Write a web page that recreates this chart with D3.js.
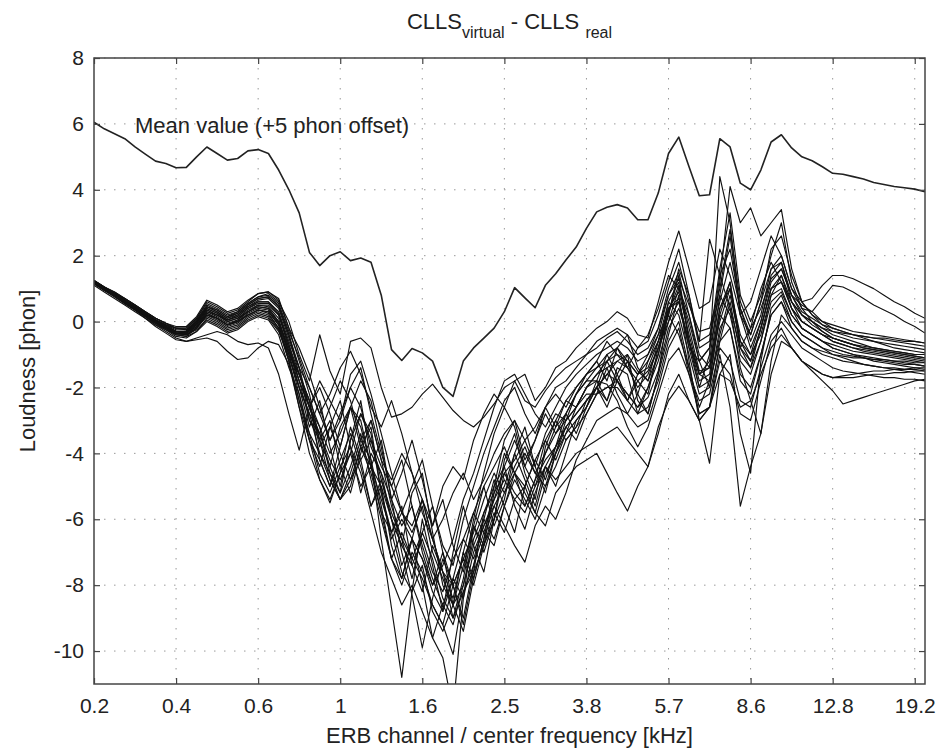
<!DOCTYPE html>
<html lang="en">
<head>
    <meta charset="UTF-8">
    <title>CLLS virtual - CLLS real</title>
    <script src="https://d3js.org/d3.v7.min.js"></script>
    <style>
        body {
            margin: 0;
            background: #fff;
            font-family: "Liberation Sans", Arial, Helvetica, sans-serif;
        }
        svg text {
            fill: #222;
        }
    </style>
</head>
<body>
<svg width="950" height="748"></svg>
<script>
    // ERB channels that carry a frequency label (every 8th channel)
    const tickChannels = [0, 8, 16, 24, 32, 40, 48, 56, 64, 72, 80];
    const tickLabels = ["0.2", "0.4", "0.6", "1", "1.6", "2.5", "3.8", "5.7", "8.6", "12.8", "19.2"];
    const yTicks = [-10, -8, -6, -4, -2, 0, 2, 4, 6, 8];

    // mean curve, already shifted by +5 phon (channels 0..81)
    const meanCurve = [6.05, 5.85, 5.7, 5.55, 5.3, 5.08, 4.87, 4.8, 4.67, 4.68, 5.0, 5.3, 5.1, 4.9, 4.95, 5.18, 5.22, 5.1, 4.6, 4.0,
        3.3, 2.1, 1.7, 2.0, 2.12, 1.85, 1.93, 1.8, 0.8, -0.85, -1.18, -0.82, -0.95, -1.2, -2.0, -2.27, -1.2, -0.8, -0.5, -0.2,
        0.3, 1.03, 0.72, 0.42, 1.1, 1.45, 1.87, 2.26, 2.83, 3.33, 3.47, 3.55, 3.45, 3.09, 3.09, 3.9, 5.1, 5.6, 4.7, 3.82,
        3.85, 5.55, 5.3, 4.2, 4.0, 4.6, 5.45, 5.67, 5.27, 5.0, 4.88, 4.7, 4.5, 4.47, 4.4, 4.33, 4.22, 4.16, 4.1, 4.06,
        4.02, 3.94];

    // single curves (channels 0..81)
    const s01 = [1.25, 1.05, 0.9, 0.7, 0.5, 0.3, 0.1, -0.05, -0.2, -0.25, 0.0, 0.45, 0.35, 0.15, 0.3, 0.55, 0.75, 0.85, 0.6,
        0.0, -1.0, -1.8, -0.4, -1.5, -2.2, -0.6, -0.5, -0.8, -2.0, -2.9, -2.8, -2.6, -2.2, -1.9, -2.3, -2.7, -3.0, -3.2, -2.9, -2.5, -2.0, -1.8, -2.4, -2.6, -2.1, -1.7, -1.4, -1.2, -1.0,
        -0.8, -0.5, -0.3, -0.6, -1.0, -0.8, -0.2, 0.8, 1.3, 0.5, -0.3, -0.2, 1.0, 2.8, 0.6, -0.2, 0.4, 1.3, 1.6, 0.8, 0.5, 0.3, 0.0, -0.2, -0.3, -0.4, -0.5, -0.6, -0.7, -0.8, -0.85, -0.9, -0.95];
    const s02 = [1.2, 1.0, 0.85, 0.65, 0.45, 0.25, 0.05, -0.1, -0.3, -0.35, -0.1, 0.3, 0.2, 0.0, 0.1, 0.35, 0.5, 0.5, 0.2,
        -0.8, -2.0, -3.2, -2.4, -3.8, -5.0, -3.6, -2.4, -4.2, -6.6, -8.7, -10.8, -8.2, -6.0, -7.4, -8.8, -7.0, -5.6, -6.8, -7.6, -6.0, -4.2, -3.4, -4.6, -5.4, -3.8, -3.0, -3.6, -3.2, -2.4,
        -2.0, -1.6, -1.2, -1.0, -1.5, -1.8, -1.0, 0.3, 1.1, -0.2, -1.5, -1.4, 0.8, 0.2, -1.2, -1.6, -0.6, 0.6, 0.9, 0.2, -0.2, -0.4, -0.6, -0.8, -0.9, -1.0, -1.1, -1.2, -1.25, -1.3, -1.35, -1.4, -1.45];
    const s03 = [1.15, 0.95, 0.75, 0.55, 0.35, 0.15, -0.05, -0.2, -0.4, -0.45, -0.2, 0.2, 0.1, -0.1, 0.0, 0.2, 0.35, 0.3, -0.1,
        -1.2, -2.6, -3.6, -4.4, -3.2, -2.4, -3.8, -5.2, -4.0, -4.6, -6.0, -7.4, -6.6, -8.0, -9.6, -10.2, -11.8, -8.4, -6.2, -5.0, -6.2, -5.4, -4.0, -3.2, -4.4, -5.2, -4.0, -3.0, -2.6, -2.2,
        -2.2, -2.0, -1.8, -2.2, -2.6, -2.3, -1.5, -0.2, 0.4, -0.6, -1.6, -1.8, 0.2, -0.2, -1.6, -2.0, -1.0, 0.2, 0.6, 0.0, -0.4, -0.6, -0.8, -1.0, -1.1, -1.2, -1.3, -1.35, -1.4, -1.45, -1.5, -1.55, -1.6];
    const s04 = [1.2, 1.0, 0.8, 0.6, 0.4, 0.2, 0.0, -0.15, -0.35, -0.4, -0.25, 0.05, -0.1, -0.3, -0.2, 0.05, 0.2, 0.1, -0.3,
        -1.0, -1.6, -2.4, -4.2, -5.0, -3.8, -2.6, -3.0, -4.4, -3.6, -5.4, -7.0, -8.3, -9.9, -8.4, -7.2, -8.0, -9.0, -7.4, -6.0, -4.8, -5.6, -6.4, -5.0, -4.2, -4.8, -3.8, -2.8, -3.4, -2.6,
        -1.8, -1.0, -1.6, -2.4, -1.8, -2.2, -0.8, 0.2, -0.4, -1.4, -2.6, -1.8, -0.6, 0.6, -1.0, -1.4, -0.2, 1.0, 1.2, 0.4, 0.0, -0.2, -0.4, -0.5, -0.6, -0.7, -0.8, -0.85, -0.9, -0.95, -1.0, -1.05, -1.1];
    const s05 = [1.1, 0.9, 0.7, 0.5, 0.3, 0.1, -0.15, -0.35, -0.55, -0.6, -0.5, -0.4, -0.3, -0.4, -0.6, -0.7, -0.65, -0.8, -1.6,
        -2.8, -3.9, -2.6, -2.0, -2.8, -3.8, -2.6, -1.8, -2.4, -3.8, -5.4, -4.6, -3.6, -4.8, -6.2, -5.4, -6.8, -7.6, -6.0, -4.6, -3.4, -2.6, -3.2, -4.4, -3.6, -2.8, -3.4, -3.0, -2.2, -1.8,
        -1.8, -1.9, -2.4, -3.2, -3.8, -3.2, -2.2, -1.2, -0.8, -1.6, -2.4, -2.2, -0.8, -1.2, -2.4, -2.6, -1.4, -0.4, 0.0, -0.4, -0.8, -1.0, -1.2, -1.4, -1.5, -1.55, -1.6, -1.65, -1.7, -1.7, -1.75, -1.75, -1.8];
    const s06 = [1.2, 1.0, 0.8, 0.55, 0.35, 0.1, -0.1, -0.3, -0.5, -0.6, -0.55, -0.5, -0.6, -0.9, -1.15, -1.1, -0.8, -0.6, -0.7,
        -1.3, -2.6, -4.0, -4.8, -5.4, -4.6, -3.2, -4.2, -5.6, -4.8, -6.0, -6.8, -5.2, -4.6, -6.4, -8.0, -8.6, -7.0, -7.8, -6.6, -5.0, -4.4, -5.6, -6.3, -5.2, -4.4, -5.0, -4.0, -3.0, -2.6,
        -2.0, -2.6, -1.8, -1.2, -2.2, -2.8, -1.6, 0.4, 0.6, -0.8, -1.2, -2.0, -0.4, 0.8, -0.6, -1.2, -0.2, 1.0, 1.4, 0.6, 0.2, 0.0, -0.2, -0.4, -0.5, -0.6, -0.7, -0.8, -0.85, -0.9, -0.95, -1.0, -1.0];
    const s07 = [1.25, 1.05, 0.85, 0.65, 0.45, 0.25, 0.05, -0.1, -0.2, -0.2, 0.1, 0.6, 0.45, 0.25, 0.35, 0.6, 0.85, 0.9, 0.7,
        -0.2, -1.2, -2.2, -3.6, -3.0, -4.4, -5.2, -4.0, -3.0, -4.2, -5.6, -6.6, -7.8, -6.4, -5.6, -7.0, -8.0, -9.2, -7.6, -5.8, -5.0, -3.6, -3.0, -4.2, -3.6, -2.6, -3.2, -2.4, -2.0, -1.6,
        -1.4, -1.2, -1.0, -1.2, -1.6, -1.4, -0.6, 0.6, 1.2, -0.6, -2.0, -1.0, 4.4, 3.0, 0.2, -0.8, 0.0, 1.2, 1.6, 0.8, 0.3, 0.1, -0.1, -0.2, -0.3, -0.4, -0.45, -0.5, -0.55, -0.6, -0.65, -0.7, -0.75];
    const s08 = [1.2, 1.0, 0.85, 0.65, 0.45, 0.2, 0.0, -0.15, -0.3, -0.3, 0.0, 0.45, 0.3, 0.1, 0.2, 0.45, 0.65, 0.7, 0.4,
        -0.5, -1.4, -3.0, -3.6, -4.4, -3.2, -2.6, -3.8, -3.2, -5.2, -6.4, -5.6, -7.4, -8.2, -6.8, -7.6, -9.0, -7.8, -6.2, -6.8, -5.2, -4.0, -4.6, -5.6, -4.8, -3.6, -4.2, -3.4, -2.6, -2.0,
        -1.6, -1.4, -1.2, -1.4, -1.8, -1.5, -0.8, 0.4, 0.9, -0.4, -1.6, -1.2, 1.2, 4.1, 3.0, 3.45, 2.6, 3.0, 3.4, 1.6, 0.6, 0.2, 0.0, -0.1, -0.2, -0.3, -0.35, -0.4, -0.45, -0.5, -0.55, -0.6, -0.65];
    const s09 = [1.2, 1.0, 0.8, 0.6, 0.4, 0.2, 0.0, -0.2, -0.3, -0.3, -0.05, 0.35, 0.2, 0.0, 0.1, 0.3, 0.45, 0.4, 0.0,
        -0.9, -1.8, -2.6, -3.4, -2.6, -1.8, -2.4, -3.6, -3.0, -4.2, -4.8, -4.0, -4.6, -5.4, -6.2, -5.0, -4.4, -4.8, -3.6, -2.8, -2.2, -2.6, -1.8, -1.6, -2.4, -2.0, -1.4, -1.2, -0.8, -0.5,
        -0.2, 0.0, 0.3, 0.1, -0.4, -0.5, 0.6, 1.8, 2.75, 1.6, 0.4, 0.6, 2.2, 1.4, 0.2, 0.6, 1.6, 2.6, 2.0, 1.0, 0.6, 0.7, 1.1, 1.4, 1.4, 1.3, 1.15, 1.0, 0.8, 0.6, 0.45, 0.25, 0.1];
    const s10 = [1.15, 0.95, 0.8, 0.6, 0.4, 0.15, -0.05, -0.2, -0.35, -0.35, -0.1, 0.25, 0.1, -0.1, 0.0, 0.2, 0.35, 0.25, -0.2,
        -1.2, -2.4, -3.6, -4.2, -5.0, -4.2, -3.4, -4.4, -5.6, -5.0, -6.8, -7.8, -6.6, -5.4, -6.6, -7.6, -8.4, -7.0, -5.8, -6.4, -5.4, -4.4, -3.6, -4.4, -5.0, -4.0, -3.2, -2.8, -2.2, -1.6,
        -1.2, -1.8, -0.8, -0.4, -1.4, -1.8, -0.6, 0.2, 1.6, 0.8, -0.8, -0.6, 1.6, 3.3, 0.8, 0.0, 0.8, 2.0, 3.0, 1.2, 0.4, 0.3, 0.7, 1.1, 1.05, 0.9, 0.7, 0.5, 0.35, 0.2, 0.0, -0.15, -0.35];
    const s11 = [1.2, 1.0, 0.8, 0.6, 0.4, 0.2, 0.0, -0.2, -0.4, -0.45, -0.3, 0.0, -0.15, -0.35, -0.25, 0.0, 0.15, 0.05, -0.4,
        -1.4, -2.2, -3.6, -4.8, -5.5, -4.6, -4.0, -5.0, -4.4, -5.8, -7.2, -6.4, -7.2, -7.8, -8.6, -9.2, -8.0, -7.2, -8.0, -6.8, -5.8, -6.4, -5.4, -5.0, -5.8, -6.2, -5.2, -4.8, -4.4, -4.2,
        -4.0, -4.6, -5.2, -5.75, -5.0, -4.4, -3.4, -2.2, -1.6, -2.4, -3.0, -2.6, -1.2, -1.6, -2.8, -3.0, -1.8, -0.6, -0.2, -0.8, -1.2, -1.4, -1.6, -1.7, -1.7, -1.7, -1.65, -1.6, -1.6, -1.55, -1.55, -1.5, -1.5];
    const s12 = [1.2, 1.0, 0.8, 0.6, 0.4, 0.2, -0.05, -0.2, -0.35, -0.4, -0.2, 0.15, 0.0, -0.2, -0.1, 0.15, 0.3, 0.2, -0.2,
        -1.1, -2.0, -2.8, -3.4, -4.4, -5.2, -4.4, -3.4, -4.8, -6.0, -7.2, -7.8, -6.6, -7.2, -8.0, -7.0, -8.6, -9.4, -7.8, -6.6, -5.6, -5.0, -4.0, -4.8, -5.6, -4.4, -3.8, -3.2, -3.6, -2.8,
        -2.2, -2.0, -2.0, -2.4, -2.8, -2.6, -1.8, -0.6, 0.0, -1.4, -2.8, -2.6, -1.0, -2.6, -5.6, -4.4, -3.4, -1.6, -0.6, -0.8, -1.2, -1.5, -1.8, -2.1, -2.5, -2.4, -2.3, -2.2, -2.1, -2.0, -1.9, -1.8, -1.75];
    const s13 = [1.25, 1.05, 0.85, 0.65, 0.45, 0.25, 0.05, -0.1, -0.25, -0.25, 0.05, 0.5, 0.35, 0.15, 0.25, 0.5, 0.7, 0.75, 0.5,
        -0.4, -1.6, -2.4, -3.8, -3.2, -4.0, -4.8, -3.8, -4.6, -5.8, -6.4, -7.6, -8.2, -7.4, -8.8, -9.4, -8.6, -7.4, -6.2, -7.0, -6.0, -4.6, -4.2, -3.6, -4.4, -3.4, -2.8, -3.0, -2.6, -2.0,
        -1.8, -2.4, -1.6, -1.0, -2.4, -2.8, -1.6, -0.4, 0.8, -1.2, -3.0, -4.3, -1.6, -1.0, -3.4, -4.6, -1.2, 0.4, 0.8, 0.0, -0.4, -0.6, -0.8, -0.9, -1.0, -1.05, -1.1, -1.15, -1.2, -1.25, -1.3, -1.3, -1.35];
    const s14 = [1.2, 1.0, 0.85, 0.65, 0.45, 0.25, 0.05, -0.15, -0.3, -0.3, -0.05, 0.4, 0.25, 0.05, 0.15, 0.4, 0.55, 0.55, 0.2,
        -0.7, -1.8, -3.0, -3.4, -4.2, -4.8, -4.0, -2.8, -3.4, -5.2, -6.6, -6.0, -6.6, -7.2, -8.2, -8.8, -7.8, -8.4, -7.0, -6.2, -5.6, -6.2, -6.8, -7.3, -6.2, -5.6, -6.0, -5.2, -4.2, -3.6,
        -3.0, -2.8, -2.6, -2.8, -3.2, -3.0, -2.0, -0.8, -0.2, -1.6, -2.8, -2.6, -0.6, -0.2, -1.8, -2.2, -1.0, 0.2, 0.6, -0.2, -0.6, -0.8, -1.0, -1.1, -1.2, -1.25, -1.3, -1.35, -1.4, -1.4, -1.45, -1.45, -1.5];
    const s15 = [1.2, 1.0, 0.85, 0.7, 0.5, 0.3, 0.1, -0.05, -0.2, -0.2, 0.1, 0.55, 0.4, 0.2, 0.3, 0.55, 0.75, 0.8, 0.55,
        -0.3, -1.1, -2.0, -2.8, -3.6, -2.8, -2.0, -2.6, -3.8, -4.6, -5.4, -6.2, -5.6, -7.0, -8.0, -7.4, -6.6, -5.4, -4.6, -3.6, -2.6, -1.8, -1.6, -2.2, -2.8, -3.2, -2.6, -2.0, -1.6, -1.3,
        -1.0, -0.8, -0.6, -0.8, -1.2, -1.0, -0.2, 1.0, 1.8, 0.6, -0.6, -0.4, 0.8, 2.6, 0.2, -0.4, 0.6, 2.2, 2.6, 1.4, 0.6, 0.2, -0.1, -0.3, -0.4, -0.5, -0.55, -0.6, -0.65, -0.7, -0.75, -0.8, -0.85];
    const s16 = [1.15, 0.95, 0.75, 0.55, 0.35, 0.15, -0.1, -0.25, -0.45, -0.5, -0.3, 0.1, -0.05, -0.25, -0.15, 0.1, 0.25, 0.15, -0.25,
        -1.2, -2.4, -3.4, -4.0, -4.6, -5.4, -4.6, -3.6, -4.2, -5.6, -7.2, -8.0, -7.0, -7.6, -8.6, -9.2, -10.1, -8.2, -7.4, -6.4, -6.8, -5.6, -4.8, -5.4, -6.0, -5.0, -4.4, -3.6, -3.2, -2.8,
        -2.2, -1.4, -2.2, -2.8, -2.2, -1.2, -0.6, 0.4, 0.7, -0.8, -2.0, -1.8, 0.2, 1.2, -0.6, -1.0, 0.0, 1.4, 1.8, 0.6, 0.0, -0.2, -0.4, -0.6, -0.7, -0.8, -0.9, -0.95, -1.0, -1.05, -1.1, -1.15, -1.2];
    const s17 = [1.2, 1.0, 0.8, 0.6, 0.4, 0.2, 0.0, -0.15, -0.3, -0.35, -0.15, 0.2, 0.05, -0.15, -0.05, 0.2, 0.35, 0.3, -0.1,
        -1.0, -2.0, -2.8, -4.0, -4.8, -5.4, -5.0, -3.8, -4.4, -5.0, -6.0, -6.8, -7.4, -6.6, -7.6, -8.2, -7.2, -6.6, -7.2, -6.2, -5.4, -4.8, -5.4, -5.8, -5.0, -4.4, -4.8, -4.4, -4.0, -3.8,
        -3.6, -3.4, -3.2, -3.6, -4.0, -4.4, -3.2, -2.4, -1.96, -2.4, -3.0, -2.6, -1.6, -1.8, -2.6, -2.4, -1.6, -0.8, -0.4, -0.8, -1.2, -1.4, -1.6, -1.7, -1.65, -1.6, -1.55, -1.5, -1.5, -1.45, -1.45, -1.4, -1.4];
    const s18 = [1.2, 1.0, 0.8, 0.6, 0.4, 0.2, 0.0, -0.15, -0.3, -0.3, 0.0, 0.4, 0.25, 0.05, 0.15, 0.4, 0.6, 0.6, 0.25,
        -0.7, -1.6, -2.4, -3.2, -4.0, -3.4, -2.6, -3.2, -4.4, -5.4, -6.4, -5.8, -6.2, -5.4, -6.6, -7.6, -8.0, -7.2, -6.4, -5.4, -4.6, -5.2, -4.4, -3.8, -4.6, -5.0, -4.0, -3.2, -2.8, -2.4,
        -2.0, -2.4, -1.4, -1.6, -2.8, -2.0, -1.0, 0.6, 0.2, -1.0, -2.2, -2.0, -0.2, 0.4, -1.4, -2.4, -3.4, -1.2, 0.2, -0.2, -0.6, -0.8, -0.9, -1.0, -1.05, -1.1, -1.1, -1.15, -1.15, -1.2, -1.2, -1.25, -1.25];
    const s19 = [1.25, 1.05, 0.9, 0.7, 0.5, 0.3, 0.1, -0.05, -0.15, -0.15, 0.15, 0.65, 0.5, 0.3, 0.4, 0.65, 0.85, 0.9, 0.65,
        -0.2, -0.8, -1.6, -2.6, -3.6, -3.0, -1.6, -1.2, -2.2, -3.4, -4.6, -5.8, -5.0, -4.2, -5.6, -6.8, -7.4, -6.0, -5.0, -4.0, -3.2, -2.4, -2.0, -2.8, -3.4, -2.6, -2.0, -1.8, -1.4, -1.0,
        -0.6, -0.4, -0.2, -0.4, -0.8, -0.6, 0.2, 1.2, 2.2, 0.8, -0.6, 2.5, 1.4, 0.4, -0.8, -0.2, 1.0, 1.8, 1.2, 0.6, 0.2, 0.0, -0.2, -0.3, -0.35, -0.4, -0.45, -0.5, -0.5, -0.55, -0.6, -0.6, -0.65];
    const s20 = [1.2, 1.0, 0.8, 0.6, 0.4, 0.2, 0.0, -0.2, -0.35, -0.4, -0.2, 0.2, 0.1, -0.1, 0.0, 0.25, 0.4, 0.35, -0.05,
        -0.9, -1.6, -2.6, -3.2, -4.6, -5.2, -3.6, -2.8, -3.6, -4.4, -5.0, -5.8, -6.4, -5.6, -7.0, -7.8, -8.6, -8.0, -6.8, -6.0, -6.6, -5.6, -4.6, -5.2, -5.8, -4.6, -4.0, -3.4, -3.0, -2.6,
        -2.0, -1.2, -1.8, -2.4, -1.6, -1.0, -0.4, 0.2, 1.4, -0.6, -1.8, -1.6, 0.4, 1.2, -0.8, -1.2, -0.2, 1.0, 1.2, 0.4, 0.0, -0.2, -0.4, -0.6, -0.7, -0.8, -0.85, -0.9, -0.95, -1.0, -1.05, -1.1, -1.15];
    const s21 = [1.2, 1.0, 0.85, 0.65, 0.45, 0.25, 0.0, -0.15, -0.3, -0.35, -0.05, 0.35, 0.2, 0.05, 0.2, 0.45, 0.6, 0.6, 0.3,
        -0.6, -1.4, -2.0, -2.8, -2.2, -1.4, -0.9, -1.6, -2.6, -3.2, -2.4, -3.4, -4.6, -5.8, -6.6, -6.0, -5.2, -4.6, -5.4, -4.8, -4.0, -3.4, -3.0, -3.6, -3.2, -2.6, -2.2, -2.6, -2.0, -1.6,
        -1.2, -0.6, -1.0, -1.4, -0.8, -0.4, 0.4, 1.4, 1.0, 0.0, -1.2, -0.8, 0.6, 1.8, 0.4, -0.6, 0.2, 1.6, 2.0, 1.0, 0.4, 0.0, -0.3, -0.5, -0.6, -0.7, -0.8, -0.85, -0.9, -0.95, -1.0, -1.05, -1.1];
    const s22 = [1.15, 0.95, 0.8, 0.6, 0.4, 0.2, -0.05, -0.25, -0.4, -0.4, -0.15, 0.25, 0.1, -0.1, 0.05, 0.3, 0.45, 0.4, 0.0,
        -0.8, -1.8, -2.6, -1.8, -2.4, -3.0, -2.0, -1.4, -2.8, -4.0, -5.0, -4.2, -5.6, -6.8, -7.8, -8.6, -7.8, -6.6, -5.8, -5.0, -4.4, -3.8, -4.6, -5.0, -4.2, -3.6, -3.0, -2.4, -2.6, -2.0,
        -1.6, -1.2, -0.8, -1.4, -2.0, -1.6, -0.8, 0.0, 1.0, 0.2, -1.0, -1.4, 0.0, 1.0, -0.4, -1.0, -0.4, 0.8, 1.4, 0.4, -0.2, -0.4, -0.6, -0.7, -0.8, -0.9, -0.95, -1.0, -1.05, -1.1, -1.15, -1.2, -1.25];
    const s23 = [1.2, 1.0, 0.8, 0.6, 0.4, 0.2, 0.0, -0.2, -0.35, -0.35, -0.1, 0.3, 0.15, -0.05, 0.05, 0.3, 0.5, 0.45, 0.1,
        -1.0, -2.2, -3.4, -4.6, -5.2, -4.4, -3.8, -4.6, -5.8, -7.0, -7.8, -8.6, -8.0, -8.8, -9.6, -8.6, -9.2, -8.0, -6.6, -5.8, -5.2, -4.6, -5.2, -5.6, -4.8, -4.2, -3.8, -3.2, -2.8, -2.4,
        -2.0, -1.6, -1.8, -2.2, -2.6, -2.0, -1.2, 0.0, 0.6, -0.6, -1.6, -1.4, 0.4, 1.0, -0.8, -1.4, -0.6, 0.8, 1.0, 0.2, -0.2, -0.4, -0.6, -0.8, -0.9, -1.0, -1.05, -1.1, -1.15, -1.2, -1.25, -1.3, -1.35];
    const s24 = [1.2, 1.0, 0.85, 0.65, 0.45, 0.2, 0.0, -0.15, -0.3, -0.3, 0.05, 0.45, 0.3, 0.1, 0.25, 0.5, 0.7, 0.75, 0.45,
        -0.4, -1.4, -2.6, -3.6, -4.8, -5.4, -4.8, -4.2, -3.6, -4.8, -5.8, -6.6, -7.2, -6.4, -7.2, -8.4, -9.0, -8.2, -7.6, -6.8, -6.0, -5.2, -4.6, -4.0, -4.6, -4.0, -3.4, -2.8, -2.2, -1.8,
        -1.4, -1.0, -0.8, -1.2, -1.6, -1.2, -0.4, 0.8, 1.5, 0.2, -1.2, -0.8, 1.4, 2.2, 0.4, -0.4, 0.6, 1.6, 1.8, 0.8, 0.2, -0.1, -0.3, -0.5, -0.6, -0.7, -0.75, -0.8, -0.85, -0.9, -0.95, -1.0, -1.0];

    const curves = [s01, s02, s03, s04, s05, s06, s07, s08, s09, s10, s11, s12,
                    s13, s14, s15, s16, s17, s18, s19, s20, s21, s22, s23, s24];

    const svg = d3.select("svg"),
          margin = {top: 58, right: 25, bottom: 64, left: 94},
          width = +svg.attr("width") - margin.left - margin.right,
          height = +svg.attr("height") - margin.top - margin.bottom;

    const g = svg.append("g").attr("transform", `translate(${margin.left},${margin.top})`);

    const x = d3.scaleLinear().domain([0, 81]).range([0, width]);
    const y = d3.scaleLinear().domain([-11, 8]).range([height, 0]);

    g.append("clipPath").attr("id", "plot-clip")
        .append("rect").attr("width", width).attr("height", height);

    // dotted grid
    const grid = g.append("g").attr("stroke", "#999").attr("stroke-width", 1)
        .attr("stroke-dasharray", "1.5,8.5");
    grid.selectAll(".vgrid").data(tickChannels.slice(1)).enter().append("line")
        .attr("x1", d => x(d)).attr("x2", d => x(d))
        .attr("y1", 0).attr("y2", height);
    grid.selectAll(".hgrid").data(yTicks).enter().append("line")
        .attr("x1", 0).attr("x2", width)
        .attr("y1", d => y(d)).attr("y2", d => y(d));

    const line = d3.line()
        .x((d, i) => x(i))
        .y(d => y(d));

    const plot = g.append("g").attr("clip-path", "url(#plot-clip)");

    plot.selectAll(".curve").data(curves).enter().append("path")
        .attr("class", "curve")
        .attr("d", line)
        .attr("fill", "none")
        .attr("stroke", "#111")
        .attr("stroke-width", 1.15)
        .attr("stroke-linejoin", "round");

    plot.append("path")
        .datum(meanCurve)
        .attr("d", line)
        .attr("fill", "none")
        .attr("stroke", "#222")
        .attr("stroke-width", 1.6)
        .attr("stroke-linejoin", "round");

    // axes: inward ticks on all four sides, box around the plot
    const axisColor = "#444";
    const xBottom = d3.axisBottom(x).tickValues(tickChannels)
        .tickFormat((d, i) => tickLabels[i]).tickSizeInner(-6).tickSizeOuter(0).tickPadding(14);
    const xTop = d3.axisTop(x).tickValues(tickChannels).tickFormat("").tickSizeInner(-6).tickSizeOuter(0);
    const yLeft = d3.axisLeft(y).tickValues(yTicks).tickFormat(d => String(d))
        .tickSizeInner(-6).tickSizeOuter(0).tickPadding(10);
    const yRight = d3.axisRight(y).tickValues(yTicks).tickFormat("").tickSizeInner(-6).tickSizeOuter(0);

    const axes = [
        g.append("g").attr("transform", `translate(0,${height})`).call(xBottom),
        g.append("g").call(xTop),
        g.append("g").call(yLeft),
        g.append("g").attr("transform", `translate(${width},0)`).call(yRight)
    ];
    axes.forEach(a => {
        a.select(".domain").remove();
        a.selectAll("line").attr("stroke", axisColor).attr("stroke-width", 1.2);
        a.selectAll("text").attr("font-size", "21px")
            .attr("font-family", "'Liberation Sans', Arial, sans-serif").attr("fill", "#222");
    });

    g.append("rect")
        .attr("width", width).attr("height", height)
        .attr("fill", "none").attr("stroke", axisColor).attr("stroke-width", 1.5);

    // labels
    g.append("text")
        .attr("x", width / 2).attr("y", height + 59)
        .attr("text-anchor", "middle").attr("font-size", "22px")
        .text("ERB channel / center frequency [kHz]");

    svg.append("text")
        .attr("transform", `translate(35,${margin.top + height / 2}) rotate(-90)`)
        .attr("text-anchor", "middle").attr("font-size", "22px")
        .text("Loudness [phon]");

    const title = svg.append("text")
        .attr("x", margin.left + width / 2).attr("y", 29)
        .attr("text-anchor", "middle").attr("font-size", "22px");
    title.append("tspan").text("CLLS");
    title.append("tspan").attr("dy", 9).attr("font-size", "16px").text("virtual");
    title.append("tspan").attr("dy", -9).text(" - CLLS ");
    title.append("tspan").attr("dy", 9).attr("font-size", "16px").text("real");

    g.append("text")
        .attr("x", 41).attr("y", 133 - margin.top)
        .attr("font-size", "22px")
        .text("Mean value (+5 phon offset)");
</script>
</body>
</html>
